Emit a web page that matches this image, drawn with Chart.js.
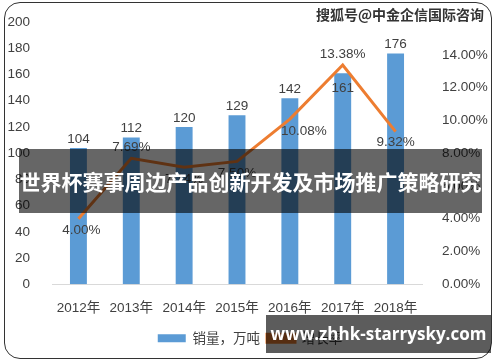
<!DOCTYPE html>
<html>
<head>
<meta charset="utf-8">
<script src="https://cdn.jsdelivr.net/npm/chart.js@4"></script>
<style>
  html, body { margin: 0; padding: 0; background: #fff; }
  #wrap { position: relative; width: 500px; height: 362px; overflow: hidden; }
  #frame { position: absolute; left: 4px; top: 2px; width: 486px; height: 355px;
    border: 1.5px solid #333; border-radius: 16px; pointer-events: none; }
  #banner { position: absolute; left: 19px; top: 149px; width: 463px; height: 64px;
    background: rgba(0,0,0,0.6); color: #fff; font: bold 21px "Noto Sans CJK SC", sans-serif;
    line-height: 64px; text-align: center; letter-spacing: 0px; white-space: nowrap; }
  #mark { position: absolute; left: 316px; top: 4px; color: #333;
    font: bold 14px "Noto Sans CJK SC", sans-serif; white-space: nowrap;
    text-shadow: -1px 0 #fff, 1px 0 #fff, 0 -1px #fff, 0 1px #fff; }
  #url { position: absolute; left: 266px; top: 315px; width: 225px; height: 38px;
    background: rgba(0,0,0,0.64); color: #fff; font: bold 17px "Open Sans", sans-serif;
    line-height: 38px; text-align: center; white-space: nowrap; }
</style>
</head>
<body>
<div id="wrap">
  <canvas id="myChart" width="500" height="362"></canvas>
  <div id="frame"></div>
  <div id="mark">搜狐号@中金企信国际咨询</div>
  <div id="banner">世界杯赛事周边产品创新开发及市场推广策略研究</div>
  <div id="url">www.zhhk-starrysky.com</div>
</div>
<script>
const labels = ["2012年", "2013年", "2014年", "2015年", "2016年", "2017年", "2018年"]
const sales = [104, 112, 120, 129, 142, 161, 176]
const growth = [4.00, 7.69, 7.14, 7.50, 10.08, 13.38, 9.32]

// where each value label sits relative to its mark
const barLabelDy = [-9, -9, -9, -9, -9, 15, -9]
const lineLabelDy = [12, -11, 12, 12, 12, -11, 11]
const lineLabelDx = [3, 0, 0, 0, 14, 0, 0]

const textColor = "#404040"

const valueLabels = {
  id: "valueLabels",
  afterDatasetsDraw(chart) {
    const ctx = chart.ctx
    ctx.save()
    ctx.font = "13.5px 'Liberation Sans', sans-serif"
    ctx.fillStyle = textColor
    ctx.textAlign = "center"
    ctx.textBaseline = "middle"
    chart.getDatasetMeta(1).data.forEach((el, i) => {
      ctx.fillText(String(sales[i]), el.x, el.y + barLabelDy[i])
    })
    chart.getDatasetMeta(0).data.forEach((el, i) => {
      ctx.fillText(growth[i].toFixed(2) + "%", el.x + lineLabelDx[i], el.y + lineLabelDy[i])
    })
    ctx.restore()
  },
}

const data = {
  labels: labels,
  datasets: [
    {
      type: "line",
      label: "增长率",
      data: growth,
      yAxisID: "y1",
      borderColor: "#ED7D31",
      backgroundColor: "#ED7D31",
      borderWidth: 3,
      pointRadius: 0,
      tension: 0,
      order: 0,
    },
    {
      type: "bar",
      label: "销量，万吨",
      data: sales,
      yAxisID: "y",
      backgroundColor: "#5B9BD5",
      categoryPercentage: 1,
      barPercentage: 0.32,
      order: 1,
    },
  ],
}

const config = {
  data: data,
  options: {
    responsive: false,
    animation: false,
    layout: { padding: { top: 14, bottom: 7 } },
    plugins: {
      legend: {
        position: "bottom",
        reverse: true,
        labels: {
          color: textColor,
          font: { size: 13.5, family: "'Noto Sans CJK SC', sans-serif" },
          boxWidth: 28,
          boxHeight: 8,
          padding: 7,
        },
      },
      tooltip: { enabled: false },
    },
    scales: {
      x: {
        grid: { display: false },
        border: { color: "#d9d9d9" },
        ticks: { color: textColor, font: { size: 13.5, family: "'Liberation Sans', 'Noto Sans CJK SC', sans-serif" }, padding: 8 },
      },
      y: {
        position: "left",
        min: 0,
        max: 200,
        grid: { display: false },
        border: { display: false },
        ticks: { stepSize: 20, color: textColor, font: { size: 13.5, family: "'Liberation Sans', sans-serif" }, padding: 14 },
        afterFit(s) { s.width = 52 },
      },
      y1: {
        position: "right",
        min: 0,
        max: 16,
        grid: { display: false },
        border: { display: false },
        ticks: {
          stepSize: 2,
          color: textColor,
          font: { size: 13.5, family: "'Liberation Sans', sans-serif" },
          padding: 12,
          callback: (v) => (v === 16 ? "" : v.toFixed(2) + "%"),
        },
        afterFit(s) { s.width = 78 },
      },
    },
  },
  plugins: [valueLabels],
}

const myChart = new Chart(document.getElementById("myChart"), config)
</script>
</body>
</html>
